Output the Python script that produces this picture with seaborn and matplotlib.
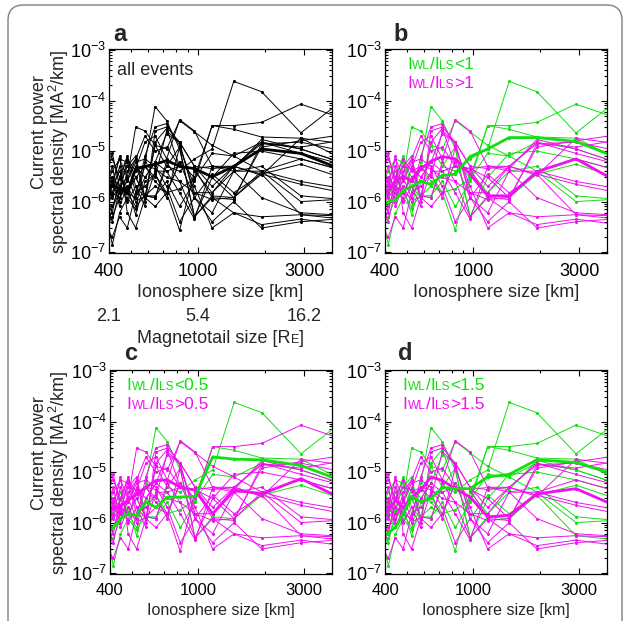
import numpy as np
import pandas as pd
import matplotlib
matplotlib.use("Agg")
import matplotlib.pyplot as plt
import seaborn as sns
from matplotlib.offsetbox import TextArea, HPacker, AnnotationBbox
from matplotlib.patches import FancyBboxPatch
from matplotlib.ticker import LogLocator, NullFormatter, FixedLocator, FixedFormatter

# ---------------- data ----------------
ionosphere_km = [387, 414, 446, 483, 527, 580, 644, 725, 829, 967, 1160, 1450, 1933, 2900, 5800]
x_ticks = [400, 1000, 3000]
x_tick_labels = ["400", "1000", "3000"]
magnetotail_labels = ["2.1", "5.4", "16.2"]

event_01 = [2.5e-6, 1.5e-6, 2.8e-6, 1.6e-6, 3e-6, 1.3e-6, 1.2e-6, 5e-6, 4e-6, 7e-6, 1.1e-5, 2.4e-4, 1.5e-4, 2.3e-5, 2.5e-4]
event_02 = [6e-7, 1.4e-7, 6e-7, 1.2e-6, 7e-7, 6e-6, 7.6e-5, 4e-5, 1.1e-5, 5e-7, 1.3e-6, 1.2e-6, 3.5e-6, 5.5e-6, 2e-6]
event_03 = [1e-6, 2e-6, 4e-6, 1.5e-6, 8e-7, 1.3e-6, 1.3e-6, 2.5e-6, 8e-7, 2.5e-6, 3.2e-5, 2.7e-5, 1.9e-5, 1.8e-5, 4e-6]
event_04 = [3e-7, 5e-7, 1.2e-6, 2e-6, 5.5e-7, 2.5e-6, 3.5e-6, 1.5e-6, 1.8e-6, 2.8e-6, 9e-6, 8e-6, 1.5e-5, 1.1e-5, 4e-6]
event_05 = [2e-6, 4e-6, 7e-6, 6e-6, 1.5e-6, 5e-6, 2.5e-6, 1.5e-6, 6e-6, 3e-6, 3.2e-5, 3.2e-5, 3.7e-5, 8.5e-5, 3e-5]
event_06 = [1e-6, 8e-7, 2e-6, 3e-6, 3e-5, 2.5e-5, 1.3e-5, 1.1e-5, 4e-5, 2.4e-5, 1.3e-5, 8e-6, 4e-6, 1e-6, 1.2e-6]
event_07 = [4e-7, 2.5e-6, 1.5e-6, 7e-6, 3e-6, 1.3e-6, 2e-6, 1.5e-6, 2.7e-7, 4e-6, 1.5e-6, 4e-6, 5e-6, 1.3e-6, 1e-6]
event_08 = [2e-6, 1.3e-6, 3e-6, 8e-6, 2e-6, 1.2e-6, 1.3e-5, 5e-6, 1.2e-5, 5e-7, 3e-6, 9e-6, 1e-5, 7e-6, 3e-6]
event_09 = [1.5e-6, 3e-6, 2e-6, 5e-6, 8e-6, 1.2e-6, 1.5e-5, 2.8e-5, 5e-6, 4.5e-6, 5e-6, 4.5e-6, 1.7e-5, 1.1e-5, 4e-6]
event_10 = [8e-7, 4e-7, 1.8e-6, 1.1e-6, 5e-6, 3e-6, 6e-6, 2.2e-5, 1.5e-5, 1.2e-6, 3.5e-6, 1.5e-6, 3.5e-6, 5.5e-7, 4e-7]
event_11 = [1.6e-5, 7e-6, 3e-6, 7e-6, 4e-6, 5e-6, 3e-6, 2.5e-5, 1.5e-5, 5e-6, 2e-6, 5e-6, 1.4e-5, 1.2e-5, 2e-5]
event_12 = [3e-6, 9e-6, 2e-6, 1.5e-6, 1.2e-6, 8e-6, 3e-5, 3.5e-5, 1.3e-5, 1.5e-6, 1.1e-6, 1.2e-6, 4e-6, 7e-6, 3e-6]
event_13 = [1.2e-6, 6e-7, 3e-6, 5e-6, 4.5e-6, 1.5e-5, 2e-5, 7e-6, 4.2e-5, 2.5e-5, 5e-6, 4e-6, 1.2e-6, 6e-7, 5e-7]
event_14 = [3e-7, 2e-7, 5e-7, 3e-7, 1.5e-6, 2e-6, 3.5e-6, 1.2e-6, 1.2e-5, 2e-6, 3e-7, 6e-7, 3.5e-7, 4.5e-7, 3e-7]
event_15 = [2e-6, 5e-6, 1e-6, 4e-6, 7e-6, 2e-5, 1e-5, 1.2e-5, 5e-6, 4.5e-6, 1.2e-6, 1.1e-6, 1.4e-5, 1.5e-5, 8e-6]
event_16 = [5e-6, 2e-6, 8e-6, 6e-7, 3e-7, 1.2e-6, 8e-7, 1.5e-6, 6e-6, 1.2e-6, 6e-7, 4e-6, 4e-6, 2.5e-6, 1.5e-6]
event_17 = [1e-6, 1.5e-6, 1.2e-6, 2.8e-6, 7e-6, 1e-6, 4e-6, 4e-6, 1.5e-6, 4.5e-7, 5e-6, 5e-6, 3.3e-6, 1.8e-5, 1.2e-5]
event_18 = [2.5e-6, 3e-6, 8e-7, 2e-6, 1e-6, 1.3e-6, 1.2e-6, 6e-6, 2.5e-6, 5e-7, 1.2e-6, 6e-7, 5e-7, 5.5e-7, 5e-7]
event_19 = [6e-7, 1.5e-6, 5e-6, 1e-6, 2e-6, 8e-7, 2.5e-5, 3e-5, 1.5e-5, 5e-6, 4.5e-6, 5e-6, 3.5e-6, 2.2e-6, 1.2e-6]
event_20 = [4e-6, 1.2e-6, 2e-6, 1.5e-6, 3e-6, 5e-6, 4.5e-6, 3e-6, 2.5e-6, 1.5e-6, 1.5e-6, 5e-6, 1.5e-5, 9e-6, 4e-6]
event_21 = [2e-7, 8e-7, 1.5e-6, 2.5e-6, 6e-6, 7e-6, 5e-6, 2e-6, 4e-7, 1.2e-6, 4e-7, 1e-6, 3e-7, 4e-7, 5e-7]
event_22 = [1.5e-6, 2.5e-6, 7e-6, 3e-6, 1.2e-6, 3e-6, 6e-6, 4e-6, 5e-6, 4.5e-6, 3e-6, 1.2e-6, 1.2e-5, 1.6e-5, 2.5e-5]

events = [event_01, event_02, event_03, event_04, event_05, event_06, event_07, event_08,
          event_09, event_10, event_11, event_12, event_13, event_14, event_15, event_16,
          event_17, event_18, event_19, event_20, event_21, event_22]
# I_WL / I_LS ratio of each event
event_ratio = [0.25, 0.35, 0.4, 0.45, 0.7, 0.6, 0.8, 0.9, 1.2, 1.3, 2.0,
               2.0, 2.0, 2.0, 2.0, 2.0, 2.0, 2.0, 2.0, 2.0, 2.0, 2.0]

mean_all = [1.6e-6, 2.2e-6, 1.8e-6, 1.5e-6, 4.5e-6, 5e-6, 5.5e-6, 6.5e-6, 5e-6, 4.5e-6, 3.1e-6, 5e-6, 1.1e-5, 9e-6, 2.7e-6]
mean_b_low = [8e-7, 1e-6, 1.1e-6, 1.65e-6, 2e-6, 2.5e-6, 2.2e-6, 3.3e-6, 3.5e-6, 7.8e-6, 1.1e-5, 1.85e-5, 1.85e-5, 1.55e-5, 4.7e-6]
mean_b_high = [1.6e-6, 1.65e-6, 2.5e-6, 3.2e-6, 2.5e-6, 4.5e-6, 6.3e-6, 7.8e-6, 7e-6, 3.5e-6, 1.3e-6, 1.3e-6, 3.9e-6, 7e-6, 1.3e-6]
mean_c_low = [6.3e-7, 8e-7, 1.2e-6, 1.5e-6, 1.4e-6, 2.6e-6, 2e-6, 3.2e-6, 3.2e-6, 3.3e-6, 2e-5, 1.8e-5, 1.75e-5, 1.35e-5, 4.3e-6]
mean_c_high = [1.6e-6, 1.9e-6, 2.2e-6, 2.75e-6, 3.7e-6, 5e-6, 6.8e-6, 7e-6, 5e-6, 4.4e-6, 1.5e-6, 4.4e-6, 3.7e-6, 7.4e-6, 1.65e-6]
mean_d_low = [5e-7, 6.3e-7, 8e-7, 1.5e-6, 3.2e-6, 2.6e-6, 3e-6, 5e-6, 4.7e-6, 4.7e-6, 8e-6, 9e-6, 1.75e-5, 1.55e-5, 6e-6]
mean_d_high = [1.4e-6, 1.8e-6, 2.75e-6, 2e-6, 3.2e-6, 4.4e-6, 8e-6, 6.8e-6, 4.7e-6, 3.2e-6, 1.3e-6, 1.4e-6, 3.7e-6, 4.7e-6, 1.25e-6]

thresholds = ["1", "0.5", "1.5"]

# ---------------- style ----------------
sns.set_style("ticks")
FONT = ["Liberation Sans", "DejaVu Sans"]
plt.rcParams["font.family"] = FONT
plt.rcParams["mathtext.fontset"] = "custom"
plt.rcParams["mathtext.rm"] = "Liberation Sans"
plt.rcParams["mathtext.it"] = "Liberation Sans:italic"
plt.rcParams["mathtext.bf"] = "Liberation Sans:bold"
plt.rcParams["axes.linewidth"] = 0.9

GREEN = "#10e010"
MAGENTA = "#f010f0"
FS = 13

rows = []
for i, (vals, r) in enumerate(zip(events, event_ratio)):
    for xv, v in zip(ionosphere_km, vals):
        rows.append({"event": i, "x": xv, "psd": v, "ratio": r})
df = pd.DataFrame(rows)

fig = plt.figure(figsize=(6.27, 6.21), dpi=100)
W, H = 627.0, 621.0


def axes_px(left, top, right, bottom):
    return fig.add_axes([left / W, 1 - bottom / H, (right - left) / W, (bottom - top) / H])


ax_a = axes_px(109, 49, 332, 253)
ax_b = axes_px(385, 49, 607, 253)
ax_c = axes_px(110, 370, 332, 574)
ax_d = axes_px(385, 370, 607, 574)


def style_axes(ax, label_y, xpad, xlabel_fs, xtick_fs):
    ax.set_xscale("log")
    ax.set_yscale("log")
    ax.set_xlim(400, 4000)
    ax.set_ylim(0.96e-7, 1.05e-3)
    ax.xaxis.set_major_locator(FixedLocator(x_ticks))
    ax.xaxis.set_major_formatter(FixedFormatter(x_tick_labels))
    ax.xaxis.set_minor_locator(LogLocator(base=10, subs=np.arange(2, 10)))
    ax.xaxis.set_minor_formatter(NullFormatter())
    ax.yaxis.set_major_locator(LogLocator(base=10, numticks=10))
    ax.yaxis.set_minor_locator(LogLocator(base=10, subs=np.arange(2, 10), numticks=20))
    ax.yaxis.set_minor_formatter(NullFormatter())
    ax.tick_params(which="both", direction="in", top=True, right=True, colors="black",
                   labelsize=FS, width=0.8)
    ax.tick_params(which="major", length=4.5)
    ax.tick_params(which="minor", length=2.2)
    ax.tick_params(axis="x", which="major", pad=xpad, labelsize=xtick_fs)
    ax.tick_params(axis="y", which="major", pad=2)
    for s in ax.spines.values():
        s.set_color("black")
    ax.set_xlabel("Ionosphere size [km]", fontsize=xlabel_fs)
    ax.set_ylabel("")
    ax.xaxis.set_label_coords(0.5, label_y)


def draw_thin(ax, data, **kw):
    sns.lineplot(data=data, x="x", y="psd", units="event", estimator=None, sort=False,
                 ax=ax, legend=False, linewidth=0.7, marker="o", markersize=2.2,
                 markeredgewidth=0, **kw)


def draw_thick(ax, yvals, color):
    sns.lineplot(x=ionosphere_km, y=yvals, ax=ax, color=color, linewidth=2.0,
                 sort=False, estimator=None, legend=False, marker="o", markersize=2.5,
                 markeredgewidth=0)


def rich_text(ax, x, y, parts):
    children = [TextArea(s, textprops=dict(color=c, fontsize=fs, family=FONT)) for s, fs, c in parts]
    box = HPacker(children=children, align="baseline", pad=0, sep=0)
    ab = AnnotationBbox(box, (x, y), xycoords=ax.transAxes, box_alignment=(0, 0),
                        frameon=False, pad=0, annotation_clip=False)
    ax.add_artist(ab)


# ---- panel a ----
draw_thin(ax_a, df, color="black")
draw_thick(ax_a, mean_all, "black")

# ---- panels b, c, d ----
means = [(mean_b_low, mean_b_high), (mean_c_low, mean_c_high), (mean_d_low, mean_d_high)]
for ax, thr, (m_low, m_high) in zip([ax_b, ax_c, ax_d], thresholds, means):
    d = df.copy()
    d["grp"] = np.where(d["ratio"] < float(thr), "low", "high")
    draw_thin(ax, d, hue="grp", hue_order=["low", "high"],
              palette={"low": GREEN, "high": MAGENTA})
    draw_thick(ax, m_high, MAGENTA)
    draw_thick(ax, m_low, GREEN)

style_axes(ax_a, -0.15, 7, FS, FS)
style_axes(ax_b, -0.15, 7, FS, FS)
style_axes(ax_c, -0.14, 6.8, 11.5, 12)
style_axes(ax_d, -0.14, 6.8, 11.5, 12)

# panel letters
for ax, letter, lx, ly in [(ax_a, "a", 0.02, 1.04), (ax_b, "b", 0.036, 1.04),
                           (ax_c, "c", 0.062, 1.05), (ax_d, "d", 0.06, 1.05)]:
    ax.text(lx, ly, letter, transform=ax.transAxes, fontsize=17, fontweight="bold",
            ha="left", va="baseline")

ax_a.text(0.037, 0.873, "all events", transform=ax_a.transAxes, fontsize=FS,
          ha="left", va="baseline")

SM = 8.6
LEG = 12.5
for ax, thr, lx in [(ax_b, thresholds[0], 0.099), (ax_c, thresholds[1], 0.076), (ax_d, thresholds[2], 0.08)]:
    rich_text(ax, lx, 0.885, [("I", LEG, GREEN), ("WL", SM, GREEN), ("/I", LEG, GREEN),
                              ("LS", SM, GREEN), ("<" + thr, LEG, GREEN)])
    rich_text(ax, lx, 0.795, [("I", LEG, MAGENTA), ("WL", SM, MAGENTA), ("/I", LEG, MAGENTA),
                              ("LS", SM, MAGENTA), (">" + thr, LEG, MAGENTA)])

# magnetotail scale under panel a
for xv, lab in zip(x_ticks, magnetotail_labels):
    ax_a.text(xv, -0.31, lab, transform=ax_a.get_xaxis_transform(), fontsize=FS,
              ha="center", va="center")
children = [TextArea("Magnetotail size [R", textprops=dict(fontsize=FS, family=FONT)),
            TextArea("E", textprops=dict(fontsize=9, family=FONT)),
            TextArea("]", textprops=dict(fontsize=FS, family=FONT))]
mbox = HPacker(children=children, align="baseline", pad=0, sep=0)
ax_a.add_artist(AnnotationBbox(mbox, (0.5, -0.42), xycoords=ax_a.transAxes,
                               box_alignment=(0.5, 0.5), frameon=False, pad=0,
                               annotation_clip=False))

# y labels (two lines)
for off in [0, 321]:
    fig.text(40 / W, 1 - (132 + off) / H, "Current power", rotation=90, fontsize=FS,
             ha="center", va="center")
    fig.text(59 / W, 1 - (152 + off) / H, r"spectral density [MA$^2$/km]", rotation=90,
             fontsize=FS, ha="center", va="center")

# rounded frame
frame = FancyBboxPatch((8 / W, -0.05), (622 - 8) / W, 1.05 - 5 / H,
                       boxstyle="round,pad=0,rounding_size=0.025",
                       transform=fig.transFigure, facecolor="none",
                       edgecolor="#8a8a8a", linewidth=1.1, clip_on=False)
fig.patches.append(frame)

fig.savefig("out.png", dpi=100)
